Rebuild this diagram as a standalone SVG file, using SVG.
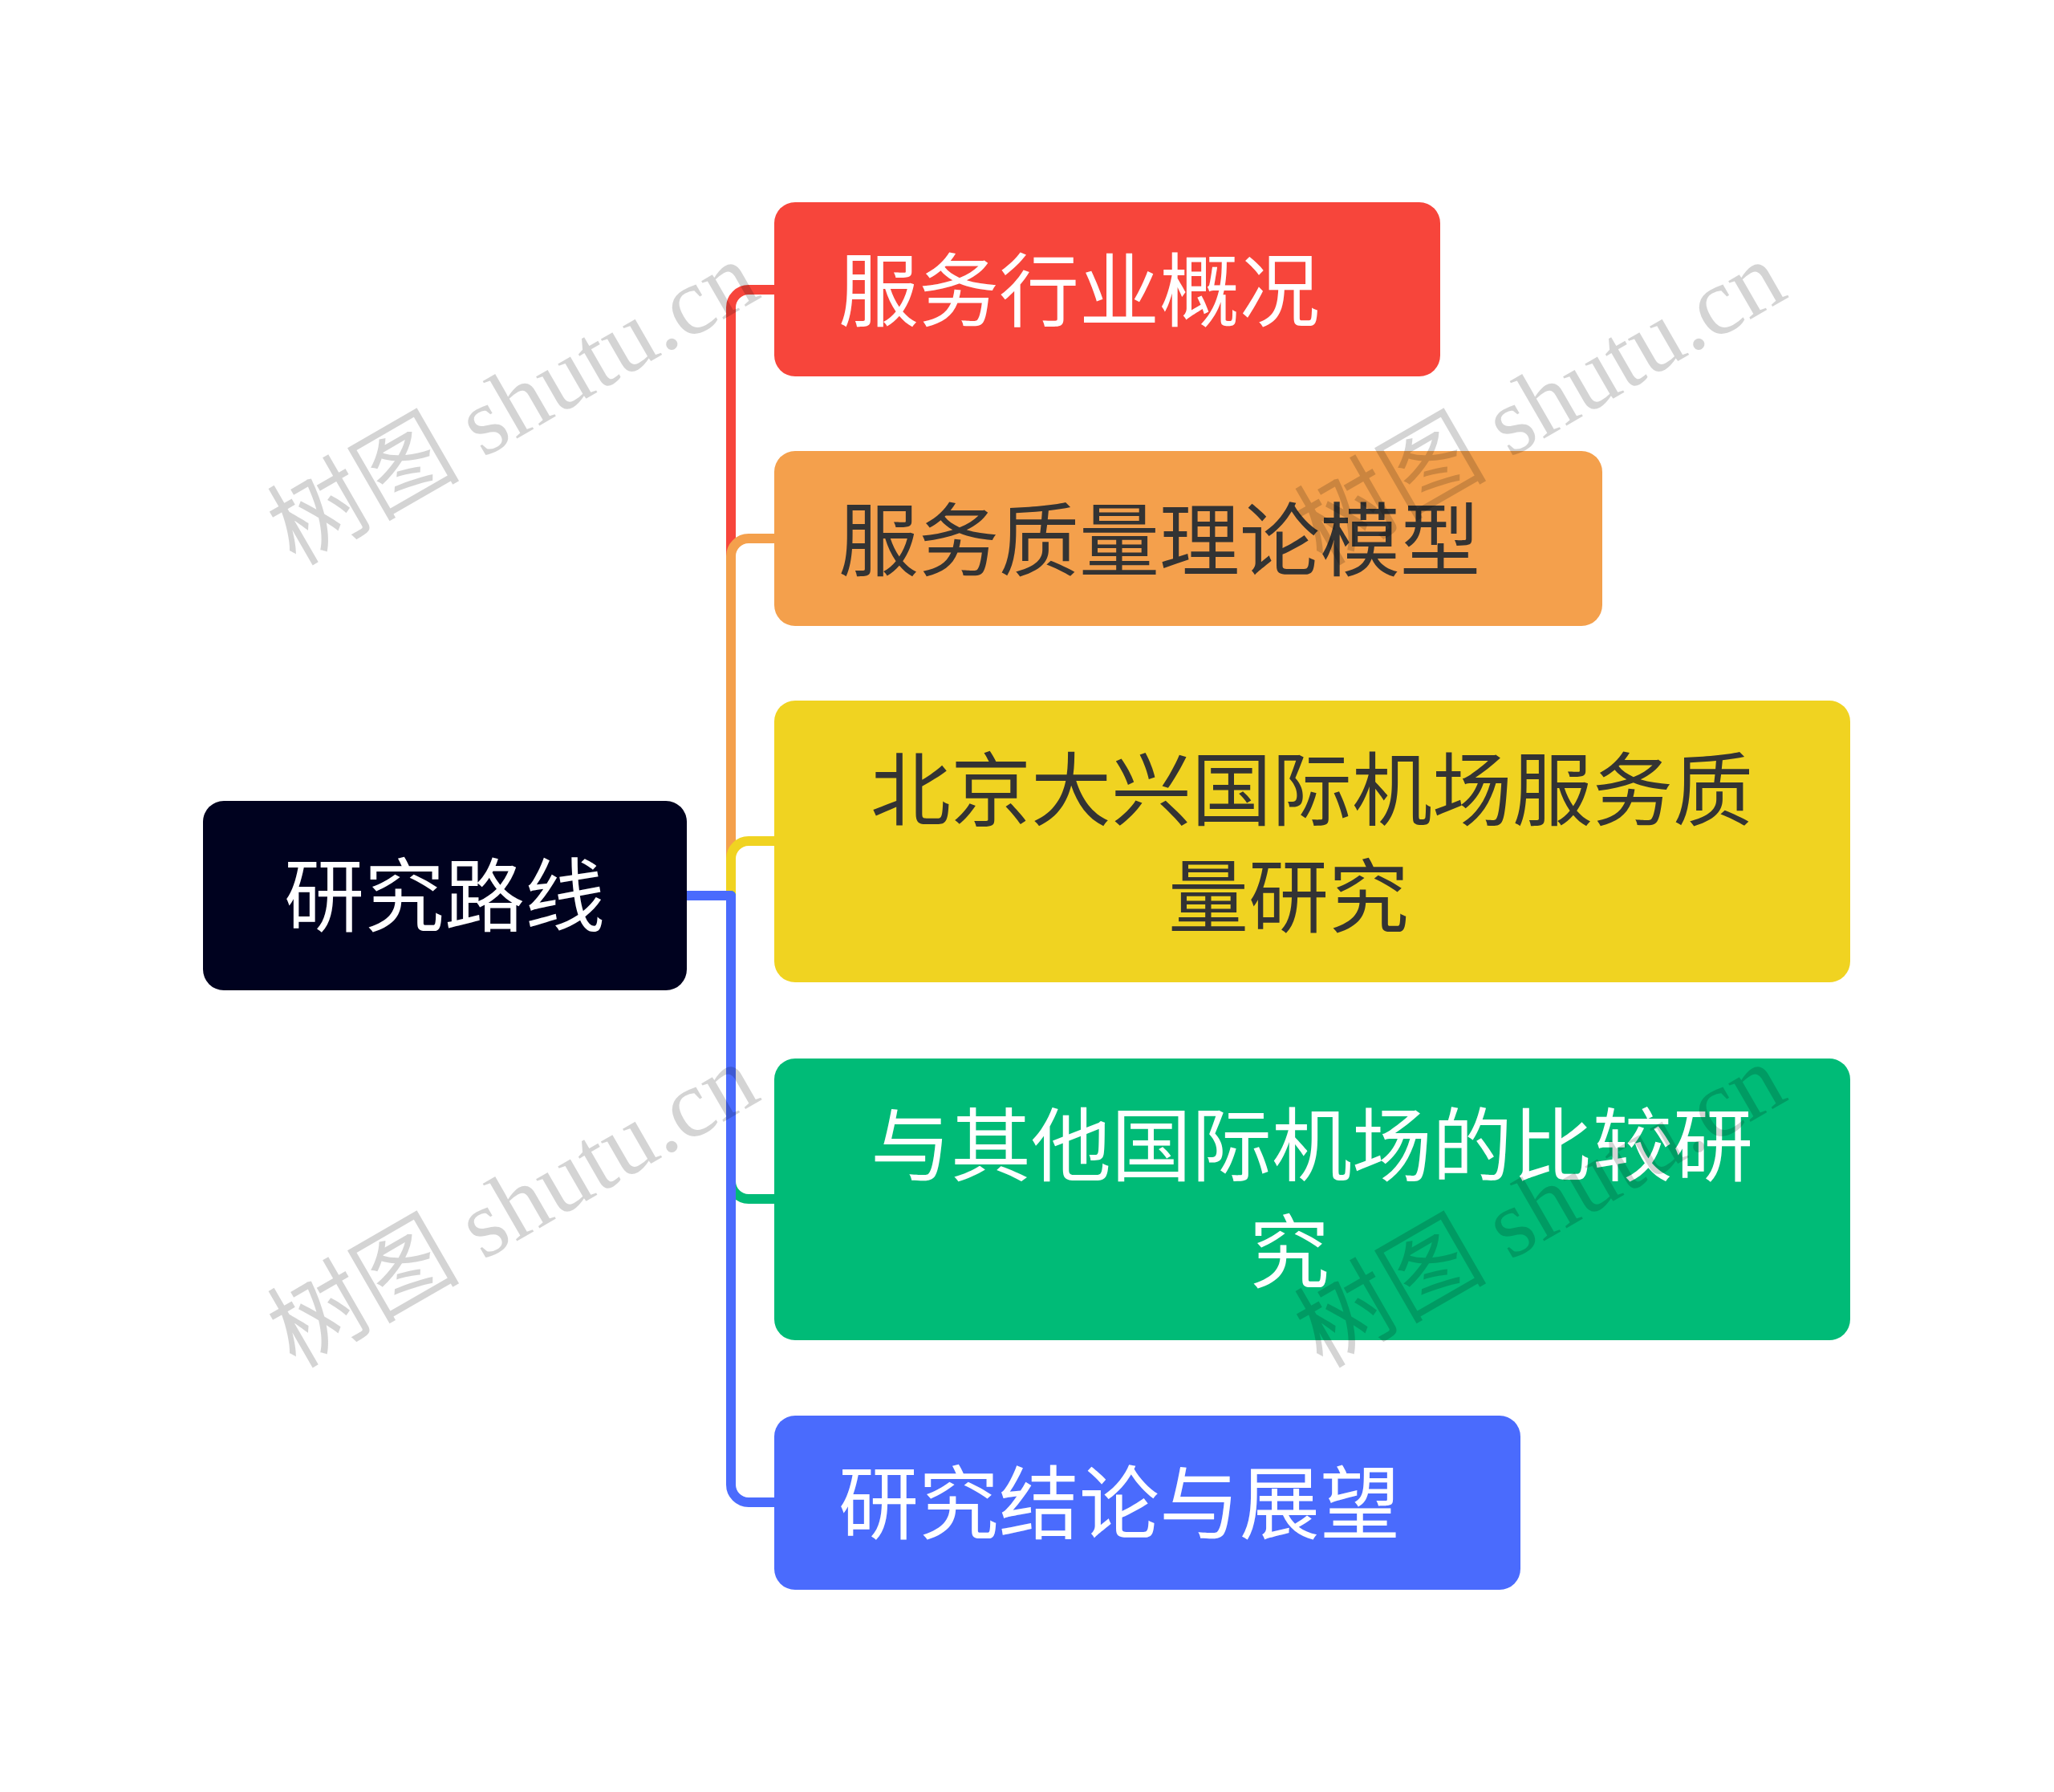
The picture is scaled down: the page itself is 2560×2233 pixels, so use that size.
<svg xmlns="http://www.w3.org/2000/svg" width="2560" height="2233" viewBox="0 0 2560 2233">
<style>
.node-text{font-family:"Noto Sans CJK SC","Noto Sans",sans-serif;font-size:100px;}
.light{fill:#ffffff;}
.dark{fill:#333333;}
.conn{fill:none;stroke-width:12;stroke-linecap:butt;stroke-linejoin:round;}
.wm{font-family:"Liberation Serif","Noto Sans CJK SC",serif;font-size:120px;fill:#000000;fill-opacity:0.17;}
</style>
<rect x="0" y="0" width="2560" height="2233" fill="#ffffff"/>
<g id="connectors">
<path class="conn" stroke="#F7453B" d="M855,1116 H911 V383 A22,22 0 0 1 933,361 H966"/>
<path class="conn" stroke="#F4A04C" d="M855,1116 H911 V693 A22,22 0 0 1 933,671 H966"/>
<path class="conn" stroke="#F0D321" d="M855,1116 H911 V1070 A22,22 0 0 1 933,1048 H966"/>
<path class="conn" stroke="#00BB77" d="M855,1116 H911 V1472 A22,22 0 0 0 933,1494 H966"/>
<path class="conn" stroke="#4A6BFD" d="M855,1116 H911 V1850 A22,22 0 0 0 933,1872 H966"/>
</g>
<g id="root">
<rect x="253" y="998" width="603" height="236" rx="26" fill="#00021F"/>
<text class="node-text light" x="554" y="1153" text-anchor="middle">研究路线</text>
</g>
<g id="node1">
<rect x="965" y="252" width="830" height="217" rx="26" fill="#F7453B"/>
<text class="node-text light" x="1045" y="399">服务行业概况</text>
</g>
<g id="node2">
<rect x="965" y="562" width="1032" height="218" rx="26" fill="#F4A04C"/>
<text class="node-text dark" x="1045" y="710">服务质量理论模型</text>
</g>
<g id="node3">
<rect x="965" y="873" width="1341" height="351" rx="26" fill="#F0D321"/>
<text class="node-text dark" x="1635" y="1021" text-anchor="middle">北京大兴国际机场服务质</text>
<text class="node-text dark" x="1606" y="1154" text-anchor="middle">量研究</text>
</g>
<g id="node4">
<rect x="965" y="1319" width="1341" height="351" rx="26" fill="#00BB77"/>
<text class="node-text light" x="1635" y="1464" text-anchor="middle">与其他国际机场的比较研</text>
<text class="node-text light" x="1607" y="1597" text-anchor="middle">究</text>
</g>
<g id="node5">
<rect x="965" y="1764" width="930" height="217" rx="26" fill="#4A6BFD"/>
<text class="node-text light" x="1045" y="1910">研究结论与展望</text>
</g>
<g id="watermarks">
<text class="wm" transform="translate(368,706) rotate(-30)">树图 shutu.cn</text>
<text class="wm" transform="translate(1648,706) rotate(-30)">树图 shutu.cn</text>
<text class="wm" transform="translate(368,1706) rotate(-30)">树图 shutu.cn</text>
<text class="wm" transform="translate(1648,1706) rotate(-30)">树图 shutu.cn</text>
</g>
</svg>
